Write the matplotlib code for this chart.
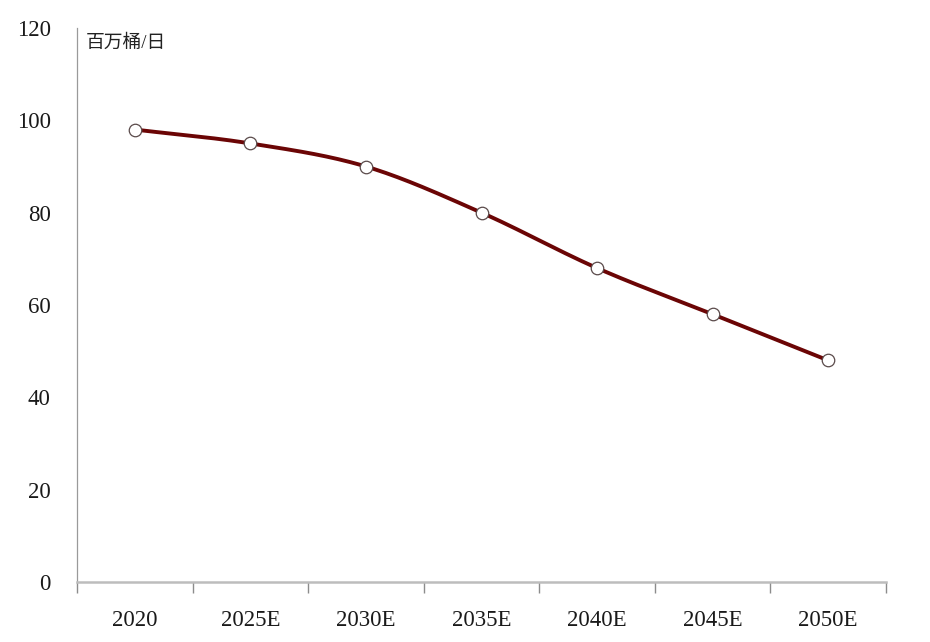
import numpy as np
import matplotlib
matplotlib.use('Agg')
from matplotlib import pyplot as plt

years = ['2020', '2025E', '2030E', '2035E', '2040E', '2045E', '2050E']
demand = [98, 95, 90, 80, 68, 58, 48]
unit = '百万桶/日'

plt.rcParams['font.family'] = ['Liberation Serif', 'Noto Sans CJK SC', 'DejaVu Sans']


def smooth(xs, ys, n=30):
    # catmull-rom curve through the points, like excel's smoothed line
    xs = np.asarray(xs, float)
    ys = np.asarray(ys, float)
    px = np.concatenate([[2 * xs[0] - xs[1]], xs, [2 * xs[-1] - xs[-2]]])
    py = np.concatenate([[2 * ys[0] - ys[1]], ys, [2 * ys[-1] - ys[-2]]])
    t = np.linspace(0, 1, n)
    outx, outy = [], []
    for i in range(1, len(px) - 2):
        for p, out in ((px, outx), (py, outy)):
            p0, p1, p2, p3 = p[i - 1], p[i], p[i + 1], p[i + 2]
            out.extend(0.5 * (2 * p1 + (-p0 + p2) * t
                              + (2 * p0 - 5 * p1 + 4 * p2 - p3) * t ** 2
                              + (-p0 + 3 * p1 - 3 * p2 + p3) * t ** 3))
    return np.array(outx), np.array(outy)


fig = plt.figure(figsize=(9.3, 6.42), dpi=100)
ax = fig.add_axes([77 / 930, 60 / 642, 809 / 930, 554 / 642])

x = np.arange(len(years))
sx, sy = smooth(x, demand)
ax.plot(sx, sy, color='#6B0505', lw=2.8, solid_capstyle='round', zorder=2)
ax.plot(x, demand, 'o', ms=9, mfc='white', mec='#5a4a4a', mew=0.9, zorder=3)

ax.set_xlim(-0.5, len(years) - 0.5)
ax.set_ylim(0, 120)
ax.set_yticks(range(0, 121, 20))
ax.tick_params(axis='y', length=0, pad=19, labelsize=16.5, labelcolor='#1a1a1a')

ax.set_xticks(x)
ax.set_xticklabels(years)
ax.tick_params(axis='x', which='major', length=0, pad=20, labelsize=16.5, labelcolor='#1a1a1a')
ax.set_xticks(np.arange(len(years) + 1) - 0.5, minor=True)
ax.tick_params(axis='x', which='minor', length=8, width=1, color='#8c8c8c')

for s in ['top', 'right']:
    ax.spines[s].set_visible(False)
ax.spines['left'].set_color('#9a9a9a')
ax.spines['left'].set_linewidth(0.9)
ax.spines['bottom'].set_color('#bdbdbd')
ax.spines['bottom'].set_linewidth(1.8)

ax.text(0.011, 0.988, unit, transform=ax.transAxes, fontsize=13.5,
        ha='left', va='top', color='#222222')

fig.savefig('out.png', dpi=100)
